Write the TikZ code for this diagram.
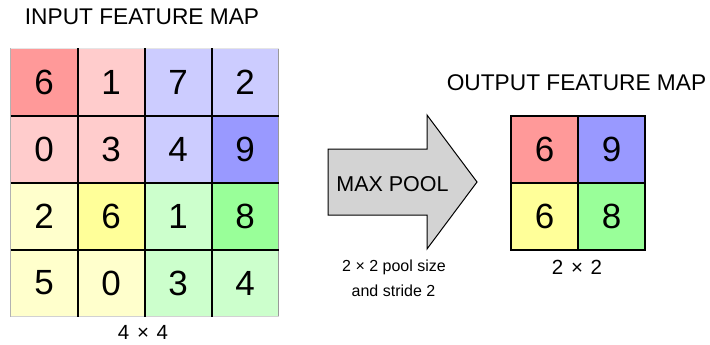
\documentclass[tikz,border=0pt]{standalone}
\usepackage{fontspec}
\setmainfont{Liberation Sans}
\definecolor{redS}{HTML}{FF9999}
\definecolor{redL}{HTML}{FFCCCC}
\definecolor{bluS}{HTML}{9999FF}
\definecolor{bluL}{HTML}{CCCCFF}
\definecolor{yelS}{HTML}{FFFF99}
\definecolor{yelL}{HTML}{FFFFCC}
\definecolor{grnS}{HTML}{99FF99}
\definecolor{grnL}{HTML}{CCFFCC}
\definecolor{arrowfill}{HTML}{D3D3D3}
\begin{document}
\begin{tikzpicture}[x=1pt,y=-1pt,
  cell/.style={minimum size=67pt, inner sep=0pt, outer sep=0pt, font=\fontsize{35}{40}\selectfont},
  gridline/.style={line width=2pt, black},
  title/.style={anchor=base, inner sep=0pt, font=\fontsize{22.7}{27}\selectfont},
  caption/.style={anchor=base, inner sep=0pt, font=\fontsize{20.5}{24}\selectfont},
  small/.style={anchor=base, inner sep=0pt, font=\fontsize{16}{19}\selectfont},
  arrowshape/.style={draw=black, line width=1pt, fill=arrowfill, line join=miter}]
\useasboundingbox (0,0) rectangle (710,345);
% input feature map
\node[cell, fill=redS] (i11) at (44,82) {6};
\node[cell, fill=redL] (i12) at (111,82) {1};
\node[cell, fill=bluL] (i13) at (178,82) {7};
\node[cell, fill=bluL] (i14) at (245,82) {2};
\node[cell, fill=redL] (i21) at (44,149) {0};
\node[cell, fill=redL] (i22) at (111,149) {3};
\node[cell, fill=bluL] (i23) at (178,149) {4};
\node[cell, fill=bluS] (i24) at (245,149) {9};
\node[cell, fill=yelL] (i31) at (44,216) {2};
\node[cell, fill=yelS] (i32) at (111,216) {6};
\node[cell, fill=grnL] (i33) at (178,216) {1};
\node[cell, fill=grnS] (i34) at (245,216) {8};
\node[cell, fill=yelL] (i41) at (44,283) {5};
\node[cell, fill=yelL] (i42) at (111,283) {0};
\node[cell, fill=grnL] (i43) at (178,283) {3};
\node[cell, fill=grnL] (i44) at (245,283) {4};
\draw[gray!60, line width=1pt] (i11.north west) -- (i41.south west);
\draw[gray!80, line width=1pt] (i14.north east) -- (i44.south east);
\draw[gray!20, line width=1pt] (i11.north west) -- (i14.north east);
\draw[gray!35, line width=1pt] (i41.south west) -- (i44.south east);
\draw[gridline] (i11.north east) -- (i41.south east);
\draw[gridline] (i12.north east) -- (i42.south east);
\draw[gridline] (i13.north east) -- (i43.south east);
\draw[gridline] (i21.north west) -- (i24.north east);
\draw[gridline] (i31.north west) -- (i34.north east);
\draw[gridline] (i41.north west) -- (i44.north east);
\node[title] (intitle) at (142,25) {INPUT FEATURE MAP};
\node[caption] (insize) at (143,339) {4 \hspace{2pt}× \hspace{2pt}4};
% arrow
\draw[arrowshape] (328,149) -- (427,149) -- (427,115) -- (477,182) -- (427,249) -- (427,215) -- (328,215) -- cycle;
\node[anchor=base, inner sep=0pt, font=\fontsize{21.5}{26}\selectfont] (maxpool) at (392.5,191) {MAX POOL};
\node[small] (pool1) at (394,271) {2 × 2 pool size};
\node[small] (pool2) at (393.5,296) {and stride 2};
% output feature map
\node[cell, fill=redS] (o11) at (544.5,149) {6};
\node[cell, fill=bluS] (o12) at (611.5,149) {9};
\node[cell, fill=yelS] (o21) at (544.5,216) {6};
\node[cell, fill=grnS] (o22) at (611.5,216) {8};
\draw[gridline] (o11.north west) rectangle (o22.south east);
\draw[gridline] (o11.north east) -- (o21.south east);
\draw[gridline] (o11.south west) -- (o12.south east);
\node[title] (outtitle) at (576.5,91) {OUTPUT FEATURE MAP};
\node[caption] (outsize) at (577,274) {2 \hspace{2pt}× \hspace{2pt}2};
\end{tikzpicture}
\end{document}
